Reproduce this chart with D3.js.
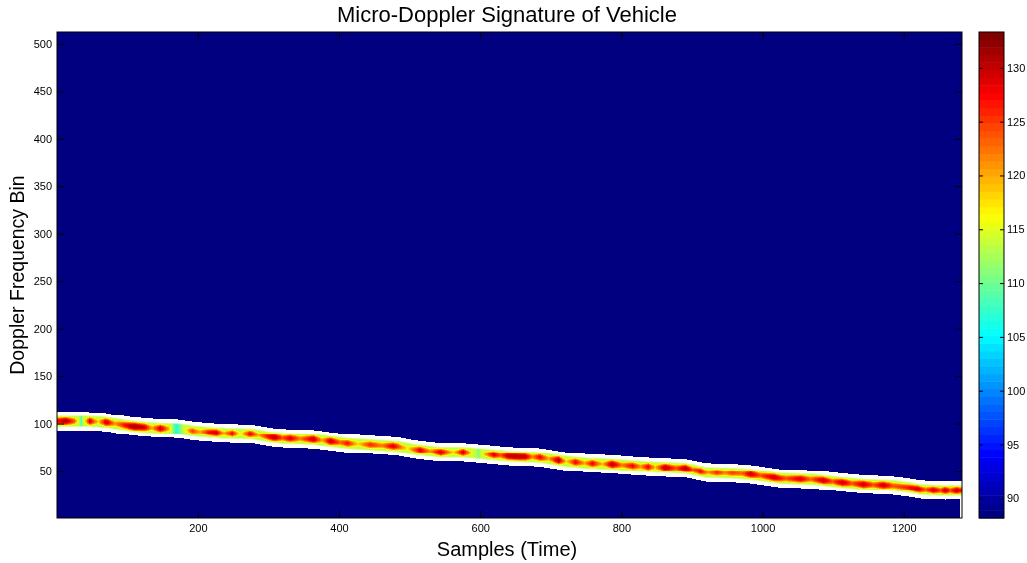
<!DOCTYPE html>
<html>
<head>
<meta charset="utf-8">
<script src="https://cdn.jsdelivr.net/npm/d3@7"></script>
<style>
  body { margin: 0; background: #fff; }
  #wrap { position: relative; width: 1027px; height: 563px; overflow: hidden; }
  #wrap canvas { position: absolute; }
  #wrap svg { position: absolute; left: 0; top: 0; }
  text { font-family: "Liberation Sans", Arial, sans-serif; fill: #000; }
</style>
</head>
<body>
<div id="wrap"></div>
<script>
// Ridge of the vehicle return: centre Doppler bin at a set of sample indices
const trackSamples = [1, 45, 69, 107, 144, 172, 196, 235, 277, 305, 324, 364, 388, 412, 458, 483, 505, 544, 576, 610,
  643, 683, 721, 753, 787, 824, 853, 891, 919, 962, 983, 1025, 1072, 1110, 1143, 1181, 1206, 1224, 1252, 1282];
const trackBins = [102.4, 102.4, 101.4, 97.1, 95.0, 94.5, 91.9, 89.8, 89.0, 85.5, 84.4, 83.4, 81.3, 79.2, 77.1, 76.0, 72.9, 69.7, 69.7, 67.6,
  65.5, 64.4, 60.2, 58.1, 57.1, 55.0, 53.9, 52.8, 48.6, 47.6, 46.5, 42.3, 41.2, 38.1, 36.0, 34.9, 32.8, 30.6, 29.6, 29.6];

// Peak power along the ridge (colour-bar units)
const peakSamples = [2, 13, 25, 35, 47, 59, 70, 83, 96, 110, 125, 135, 147, 158, 169, 181, 192, 203, 215, 226, 237, 249, 260, 274, 286, 297, 308, 320,
  331, 345, 364, 376, 388, 402, 412, 427, 444, 461, 477, 497, 515, 529, 544, 562, 576, 589, 598, 607, 619, 629, 639,
  650, 664, 674, 685, 697, 711, 722, 735, 748, 759, 773, 787, 801, 816, 827, 838, 848, 862, 877, 891, 901, 912, 923, 935, 947, 957,
  971, 983, 997, 1016, 1033, 1054, 1068, 1086, 1099, 1113, 1127, 1143, 1157, 1171, 1185, 1203, 1220, 1231, 1242, 1252, 1259, 1266, 1275, 1280];
const peakLevels = [128, 131, 124, 109, 129, 118, 130, 121, 127, 132, 129, 120, 130, 121, 106, 115, 125, 120, 127, 130, 120, 128, 116, 129, 120, 126, 131, 124,
  129, 122, 130, 120, 130, 123, 127, 118, 126, 122, 129, 117, 129, 121, 130, 118, 130, 116, 111, 120, 129, 124, 130,
  131, 130, 122, 128, 120, 131, 118, 128, 120, 128, 119, 131, 122, 128, 121, 128, 119, 131, 124, 131, 124, 128, 121, 126, 122, 125,
  123, 130, 124, 130, 124, 129, 123, 130, 124, 130, 124, 130, 124, 130, 124, 126, 130, 124, 130, 125, 131, 125, 131, 128];

// Axis ticks
const xTicks = [200, 400, 600, 800, 1000, 1200];
const yTicks = [50, 100, 150, 200, 250, 300, 350, 400, 450, 500];
const cTicks = [90, 95, 100, 105, 110, 115, 120, 125, 130];

const nSamples = 1282, nBins = 512;
const cLimits = [88.17, 133.33];

const plot = { left: 57, right: 962, top: 32, bottom: 518 };
const bar = { left: 979, right: 1004 };

const x = d3.scaleLinear().domain([0.5, nSamples + 0.5]).range([plot.left, plot.right]);
const y = d3.scaleLinear().domain([0.5, nBins + 0.5]).range([plot.bottom, plot.top]);

// 64-step jet colour map
function jet(t) {
  const f = v => Math.max(0, Math.min(1, v));
  return d3.rgb(255 * f(1.5 - Math.abs(4 * t - 3)), 255 * f(1.5 - Math.abs(4 * t - 2)), 255 * f(1.5 - Math.abs(4 * t - 1)));
}
const jet64 = d3.range(64).map(i => jet(i / 63).formatHex());
const color = d3.scaleQuantize().domain(cLimits).range(jet64);

const center = d3.scaleLinear().domain(trackSamples).range(trackBins).clamp(true);
const peak = d3.scaleLinear().domain(peakSamples).range(peakLevels).clamp(true);

const wrap = d3.select("#wrap");

// Spectrogram image
const cw = plot.right - plot.left, ch = plot.bottom - plot.top;
const canvas = wrap.append("canvas")
  .attr("width", cw).attr("height", ch)
  .style("left", plot.left + "px").style("top", plot.top + "px");
const ctx = canvas.node().getContext("2d");
const img = ctx.createImageData(cw, ch);
const bg = d3.rgb(color(cLimits[0]));
const white = d3.rgb(255, 255, 255);
const halfBand = 9.6;        // extent of the white halo, bins
const coreIn = 4.2, coreOut = 6.8;
const edgeLevel = 114;       // power at the rim of the ridge
const smooth = (a, b, v) => { const t = Math.max(0, Math.min(1, (v - a) / (b - a))); return t * t * (3 - 2 * t); };

for (let i = 0; i < cw; i++) {
  const s = Math.max(1, Math.min(nSamples, Math.round(x.invert(plot.left + i + 0.5))));
  const c = center(s), p = peak(s);
  for (let j = 0; j < ch; j++) {
    const b = Math.max(1, Math.min(nBins, Math.round(y.invert(plot.top + j + 0.5))));
    const d = Math.abs(b - c);
    let col;
    if (d > halfBand) {
      col = (s >= nSamples - 2 && b < c) ? white : bg;
    } else {
      const v = Math.max(Math.min(p, edgeLevel), p - 0.7 * d * d);
      const base = d3.rgb(color(Math.min(cLimits[1], v)));
      const w = smooth(coreIn, coreOut, d);
      col = d3.rgb(base.r + (255 - base.r) * w, base.g + (255 - base.g) * w, base.b + (255 - base.b) * w);
    }
    const k = (j * cw + i) * 4;
    img.data[k] = col.r; img.data[k + 1] = col.g; img.data[k + 2] = col.b; img.data[k + 3] = 255;
  }
}
ctx.putImageData(img, 0, 0);

// Axes, labels and colour bar
const svg = wrap.append("svg").attr("width", 1027).attr("height", 563);
const tickLen = 7;
const fmt = d3.format("d");

const gx = svg.append("g").attr("transform", `translate(0,${plot.bottom})`)
  .call(d3.axisBottom(x).tickValues(xTicks).tickFormat(fmt).tickSizeInner(-tickLen).tickSizeOuter(0).tickPadding(6));
const gxTop = svg.append("g").attr("transform", `translate(0,${plot.top})`)
  .call(d3.axisTop(x).tickValues(xTicks).tickSizeInner(-tickLen).tickSizeOuter(0).tickFormat(""));
const gy = svg.append("g").attr("transform", `translate(${plot.left},0)`)
  .call(d3.axisLeft(y).tickValues(yTicks).tickFormat(fmt).tickSizeInner(-tickLen).tickSizeOuter(0).tickPadding(5));
const gyRight = svg.append("g").attr("transform", `translate(${plot.right},0)`)
  .call(d3.axisRight(y).tickValues(yTicks).tickSizeInner(-tickLen).tickSizeOuter(0).tickFormat(""));

[gx, gxTop, gy, gyRight].forEach(g => {
  g.select(".domain").remove();
  g.selectAll("line").attr("stroke", "#000");
  g.selectAll("text").attr("font-size", 11).attr("font-family", '"Liberation Sans", Arial, sans-serif').attr("fill", "#222");
});

svg.append("rect")
  .attr("x", plot.left).attr("y", plot.top)
  .attr("width", cw).attr("height", ch)
  .attr("fill", "none").attr("stroke", "#000").attr("stroke-width", 1);

// Colour bar
const cy = d3.scaleLinear().domain(cLimits).range([plot.bottom, plot.top]);
const step = (cLimits[1] - cLimits[0]) / jet64.length;
svg.append("g").selectAll("rect").data(jet64).join("rect")
  .attr("x", bar.left)
  .attr("y", (d, i) => cy(cLimits[0] + (i + 1) * step))
  .attr("width", bar.right - bar.left)
  .attr("height", (d, i) => cy(cLimits[0] + i * step) - cy(cLimits[0] + (i + 1) * step) + 0.5)
  .attr("fill", d => d);

const gc = svg.append("g").attr("transform", `translate(${bar.right},0)`)
  .call(d3.axisRight(cy).tickValues(cTicks).tickFormat(fmt).tickSizeInner(-4).tickSizeOuter(0).tickPadding(3));
const gcLeft = svg.append("g").attr("transform", `translate(${bar.left},0)`)
  .call(d3.axisLeft(cy).tickValues(cTicks).tickSizeInner(-4).tickSizeOuter(0).tickFormat(""));
[gc, gcLeft].forEach(g => {
  g.select(".domain").remove();
  g.selectAll("line").attr("stroke", "#000");
  g.selectAll("text").attr("font-size", 11).attr("font-family", '"Liberation Sans", Arial, sans-serif').attr("fill", "#222");
});
svg.append("rect")
  .attr("x", bar.left).attr("y", plot.top)
  .attr("width", bar.right - bar.left).attr("height", ch)
  .attr("fill", "none").attr("stroke", "#000").attr("stroke-width", 1);

// Titles
svg.append("text")
  .attr("x", 507).attr("y", 22)
  .attr("text-anchor", "middle").attr("font-size", 22)
  .text("Micro-Doppler Signature of Vehicle");
svg.append("text")
  .attr("x", 507).attr("y", 556)
  .attr("text-anchor", "middle").attr("font-size", 20)
  .text("Samples (Time)");
svg.append("text")
  .attr("transform", `translate(24,${(plot.top + plot.bottom) / 2}) rotate(-90)`)
  .attr("text-anchor", "middle").attr("font-size", 19.5)
  .text("Doppler Frequency Bin");
</script>
</body>
</html>
